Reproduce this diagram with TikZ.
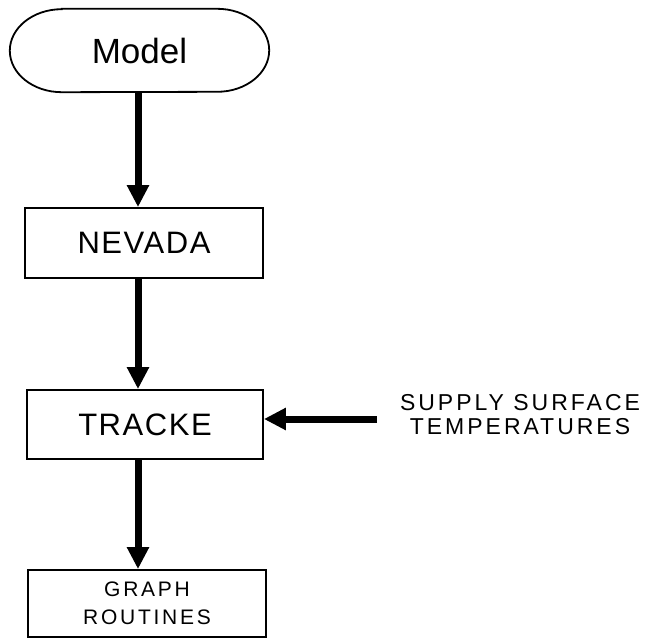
\documentclass[tikz,border=0pt]{standalone}
\usepackage{fontspec}
\setmainfont{Liberation Sans}
\newfontfamily\spaced[LetterSpace=13]{Liberation Sans}
\newfontfamily\lspaced[LetterSpace=5]{Liberation Sans}
\usetikzlibrary{arrows.meta,calc}
\begin{document}
\begin{tikzpicture}[x=1pt,y=1pt,
  boxline/.style={line width=1.8pt},
  procbox/.style={draw, boxline, rectangle, inner sep=0pt},
  flowarrow/.style={line width=7pt, -{Triangle[length=22pt,width=21pt]}}]
\useasboundingbox (0,0) rectangle (647,-639);
% Model terminal
\node (model) at (139.5,-50.5) [minimum width=259pt, minimum height=83pt, inner sep=0pt,
  font=\fontsize{35}{42}\selectfont] {Model};
\draw[boxline] ($(model.north west)+(52,0)$) -- ($(model.north east)+(-52,0)$)
  arc[start angle=90, end angle=-90, x radius=52, y radius=41.5]
  -- ($(model.south west)+(52,0)$)
  arc[start angle=270, end angle=90, x radius=52, y radius=41.5] -- cycle;
% boxes
\node[procbox, minimum width=238pt, minimum height=70pt,
  font=\lspaced\fontsize{31}{37}\selectfont] (nevada) at (144,-243) {NEVADA};
\node[procbox, minimum width=236pt, minimum height=69pt,
  font=\lspaced\fontsize{31}{37}\selectfont] (tracke) at (145,-424.5) {TRACKE};
\node[procbox, minimum width=238pt, minimum height=67pt, align=center,
  font=\spaced\fontsize{21}{28}\selectfont] (graph) at (147,-603.5) {GRAPH\\ROUTINES};
\node[align=center, inner sep=0pt, font=\spaced\fontsize{23}{24}\selectfont]
  (supply) at (520,-415) {SUPPLY SURFACE\\TEMPERATURES};
\coordinate (axis) at (138,0);
\coordinate (src) at (377,-419);
% connectors
\draw[flowarrow] (axis |- model.south) -- (axis |- nevada.north);
\draw[flowarrow] (axis |- nevada.south) -- (axis |- tracke.north);
\draw[flowarrow] (axis |- tracke.south) -- (axis |- graph.north);
\draw[flowarrow] (src) -- (src -| tracke.east);
\end{tikzpicture}
\end{document}
